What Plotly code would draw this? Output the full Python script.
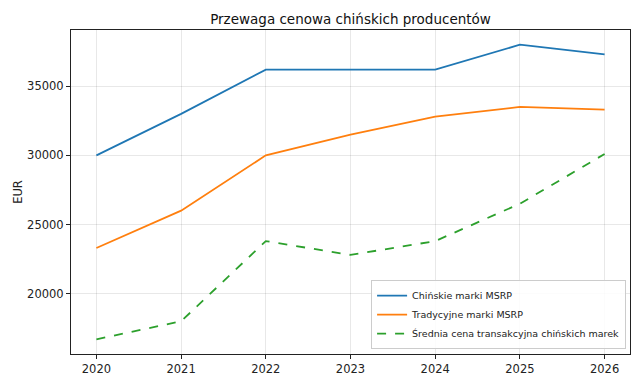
import plotly.graph_objects as go

years = [2020, 2021, 2022, 2023, 2024, 2025, 2026]
chinese_msrp = [30000, 33000, 36200, 36200, 36200, 38000, 37300]
traditional_msrp = [23300, 26000, 30000, 31500, 32800, 33500, 33300]
chinese_atp = [16700, 18000, 23800, 22800, 23800, 26500, 30100]

names = ["Chińskie marki MSRP", "Tradycyjne marki MSRP", "Średnia cena transakcyjna chińskich marek"]
colors = ["#1f77b4", "#ff7f0e", "#2ca02c"]
dashes = ["solid", "solid", "dash"]

fig = go.Figure()
for vals, name, col, dash in zip([chinese_msrp, traditional_msrp, chinese_atp], names, colors, dashes):
    fig.add_trace(go.Scatter(x=years, y=vals, mode="lines", name=name,
                             line=dict(color=col, width=1.8, dash=dash)))

axis_common = dict(showline=True, linecolor="#222", linewidth=1, mirror=True,
                   ticks="outside", ticklen=4, tickcolor="#222",
                   showgrid=True, gridcolor="rgba(0,0,0,0.09)", gridwidth=1,
                   zeroline=False, tickfont=dict(size=11.5, color="#222"), automargin=False)

fig.update_layout(
    width=642, height=386,
    margin=dict(l=71, r=12, t=30, b=32),
    paper_bgcolor="white", plot_bgcolor="white",
    font=dict(family="DejaVu Sans", color="#222"),
    title=dict(text="Przewaga cenowa chińskich producentów", x=0.5, xanchor="center", xref="paper",
               y=0.95, yanchor="middle", font=dict(size=13.5, color="#111")),
    xaxis=dict(range=[2019.7, 2026.3], tickvals=years, ticktext=[str(y) for y in years], **axis_common),
    yaxis=dict(range=[15635, 39065], tickvals=[20000, 25000, 30000, 35000], tickformat="d",
               title=dict(text="EUR", font=dict(size=11.5), standoff=2), **axis_common),
    legend=dict(x=0.993, y=0.015, xanchor="right", yanchor="bottom",
                bgcolor="rgba(255,255,255,0.85)", bordercolor="#ccc", borderwidth=1,
                font=dict(size=9.5, color="#222"), tracegroupgap=0, itemwidth=30),
    showlegend=True,
)

fig.write_html("out.html")
